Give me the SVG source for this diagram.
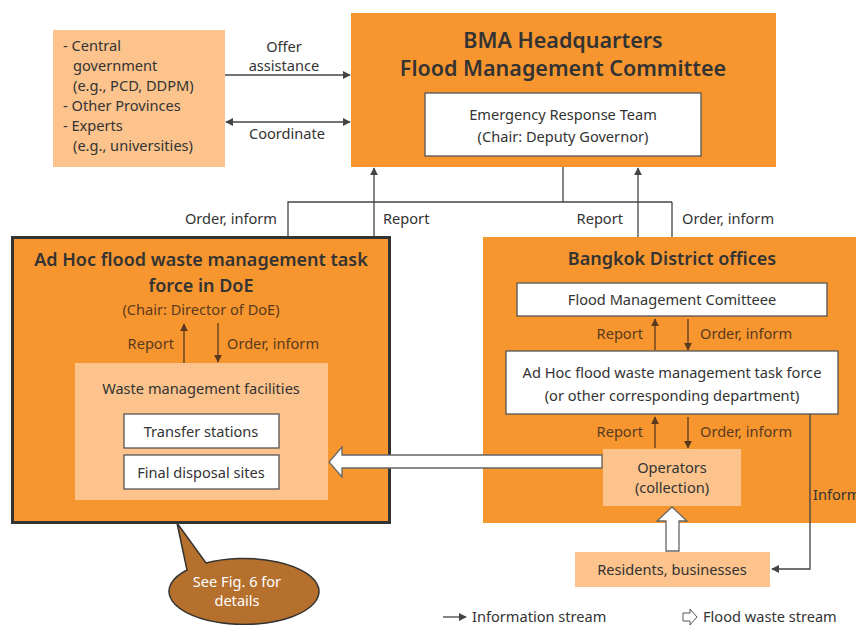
<svg xmlns="http://www.w3.org/2000/svg" width="856" height="625" viewBox="0 0 856 625">
<defs>
<style>
text{font-family:"Noto Sans","Open Sans",sans-serif;fill:#333;font-size:14.6px}
.c{text-anchor:middle}
.r{text-anchor:end}
.t{font-size:21.5px;font-weight:600}
.h{font-size:18px;font-weight:600}
.br{fill:#5a3a1e}
.org{fill:#F7962F}
.lt{fill:#FCC38C}
.wb{fill:#fff;stroke:#555;stroke-width:1.3}
.ln{fill:none;stroke:#444;stroke-width:1.3}
.lnb{fill:none;stroke:#5a3a1e;stroke-width:1.3}
.fw{fill:#fff;stroke:#666;stroke-width:1.3}
</style>
<marker id="ah" viewBox="0 0 10 10" refX="9" refY="5" markerWidth="8" markerHeight="8" markerUnits="userSpaceOnUse" orient="auto-start-reverse"><path d="M0,0 L10,5 L0,10 z" fill="#444"/></marker>
<marker id="ahb" viewBox="0 0 10 10" refX="9" refY="5" markerWidth="8" markerHeight="8" markerUnits="userSpaceOnUse" orient="auto-start-reverse"><path d="M0,0 L10,5 L0,10 z" fill="#5a3a1e"/></marker>
</defs>
<rect width="856" height="625" fill="#fff"/>

<g id="external">
<rect x="53" y="30" width="172" height="137" class="lt"/>
<text x="63" y="51">- Central</text>
<text x="73" y="71">government</text>
<text x="73" y="91">(e.g., PCD, DDPM)</text>
<text x="63" y="111">- Other Provinces</text>
<text x="63" y="131">- Experts</text>
<text x="73" y="151">(e.g., universities)</text>
</g>

<g id="bma">
<rect x="351" y="13" width="425" height="154" class="org"/>
<text x="563" y="48" class="c t">BMA Headquarters</text>
<text x="563" y="76" class="c t">Flood Management Committee</text>
<rect x="425" y="93" width="276" height="63" class="wb"/>
<text x="563" y="120" class="c">Emergency Response Team</text>
<text x="563" y="142" class="c">(Chair: Deputy Governor)</text>
</g>

<g id="doe">
<rect x="12.5" y="237.5" width="377" height="285" class="org" stroke="#333" stroke-width="3"/>
<text x="201" y="266" class="c h">Ad Hoc flood waste management task</text>
<text x="201" y="292" class="c h">force in DoE</text>
<text x="201" y="315" class="c br" font-size="14">(Chair: Director of DoE)</text>
<text x="174" y="349" class="r br">Report</text>
<text x="227" y="349" class="br">Order, inform</text>
<rect x="75" y="363" width="253" height="137" class="lt"/>
<text x="201" y="394" class="c">Waste management facilities</text>
<rect x="124" y="414" width="155" height="34" class="wb"/>
<text x="201" y="437" class="c">Transfer stations</text>
<rect x="124" y="455" width="155" height="34" class="wb"/>
<text x="201" y="478" class="c">Final disposal sites</text>
</g>

<g id="district">
<rect x="483" y="237" width="373" height="286" class="org"/>
<text x="672" y="265" class="c h">Bangkok District offices</text>
<rect x="517" y="283" width="310" height="33" class="wb"/>
<text x="672" y="305" class="c">Flood Management Comitteee</text>
<text x="643" y="339" class="r br">Report</text>
<text x="700" y="339" class="br">Order, inform</text>
<rect x="506" y="351" width="332" height="63" class="wb"/>
<text x="672" y="378" class="c">Ad Hoc flood waste management task force</text>
<text x="672" y="401" class="c">(or other corresponding department)</text>
<text x="643" y="437" class="r br">Report</text>
<text x="700" y="437" class="br">Order, inform</text>
<rect x="603" y="449" width="138" height="57" class="lt"/>
<text x="672" y="473" class="c">Operators</text>
<text x="672" y="493" class="c">(collection)</text>
</g>

<g id="residents">
<rect x="575" y="552" width="195" height="35" class="lt"/>
<text x="672" y="575" class="c">Residents, businesses</text>
</g>

<g id="callout">
<path d="M177,523 L206,563 A75,33 0 1 1 187,570 Z" fill="#B5702D" stroke="#333" stroke-width="1.5"/>
<text x="237" y="587" class="c" style="fill:#fff" font-size="13">See Fig. 6 for</text>
<text x="237" y="606" class="c" style="fill:#fff" font-size="13">details</text>
</g>

<g id="connectors">
<line x1="225" y1="75" x2="350" y2="75" class="ln" marker-end="url(#ah)"/>
<text x="284" y="52" class="c" font-size="13.5">Offer</text>
<text x="284" y="71" class="c" font-size="13.5">assistance</text>
<line x1="226" y1="122" x2="350" y2="122" class="ln" marker-start="url(#ah)" marker-end="url(#ah)"/>
<text x="287" y="139" class="c">Coordinate</text>

<polyline points="563,167 563,202 288,202 288,237" class="ln"/>
<line x1="563" y1="202" x2="672" y2="202" class="ln"/>
<line x1="672" y1="202" x2="672" y2="237" class="ln"/>
<line x1="374" y1="237" x2="374" y2="168" class="ln" marker-end="url(#ah)"/>
<line x1="638" y1="237" x2="638" y2="168" class="ln" marker-end="url(#ah)"/>
<text x="277" y="224" class="r">Order, inform</text>
<text x="383" y="224">Report</text>
<text x="623" y="224" class="r">Report</text>
<text x="682" y="224">Order, inform</text>

<line x1="184" y1="363" x2="184" y2="324" class="lnb" marker-end="url(#ahb)"/>
<line x1="218" y1="323" x2="218" y2="362" class="lnb" marker-end="url(#ahb)"/>

<line x1="655" y1="350" x2="655" y2="319" class="lnb" marker-end="url(#ahb)"/>
<line x1="688" y1="319" x2="688" y2="350" class="lnb" marker-end="url(#ahb)"/>
<line x1="655" y1="448" x2="655" y2="417" class="lnb" marker-end="url(#ahb)"/>
<line x1="688" y1="417" x2="688" y2="448" class="lnb" marker-end="url(#ahb)"/>

<polyline points="810,414 810,569 772,569" class="ln" marker-end="url(#ah)"/>
<text x="813" y="500" font-size="11.5">Inform</text>

<path d="M602,455 L342,455 L342,447 L329,462 L342,477 L342,468 L602,468 Z" class="fw"/>
<path d="M666,551 L666,521 L657,521 L672,507 L687,521 L679,521 L679,551 Z" class="fw"/>
</g>

<g id="legend">
<line x1="443" y1="617" x2="466" y2="617" class="ln" marker-end="url(#ah)"/>
<text x="472" y="622">Information stream</text>
<path d="M683,613 L690,613 L690,609 L697,617 L690,625 L690,621 L683,621 Z" fill="#fff" stroke="#555" stroke-width="1"/>
<text x="703" y="622">Flood waste stream</text>
</g>
</svg>
